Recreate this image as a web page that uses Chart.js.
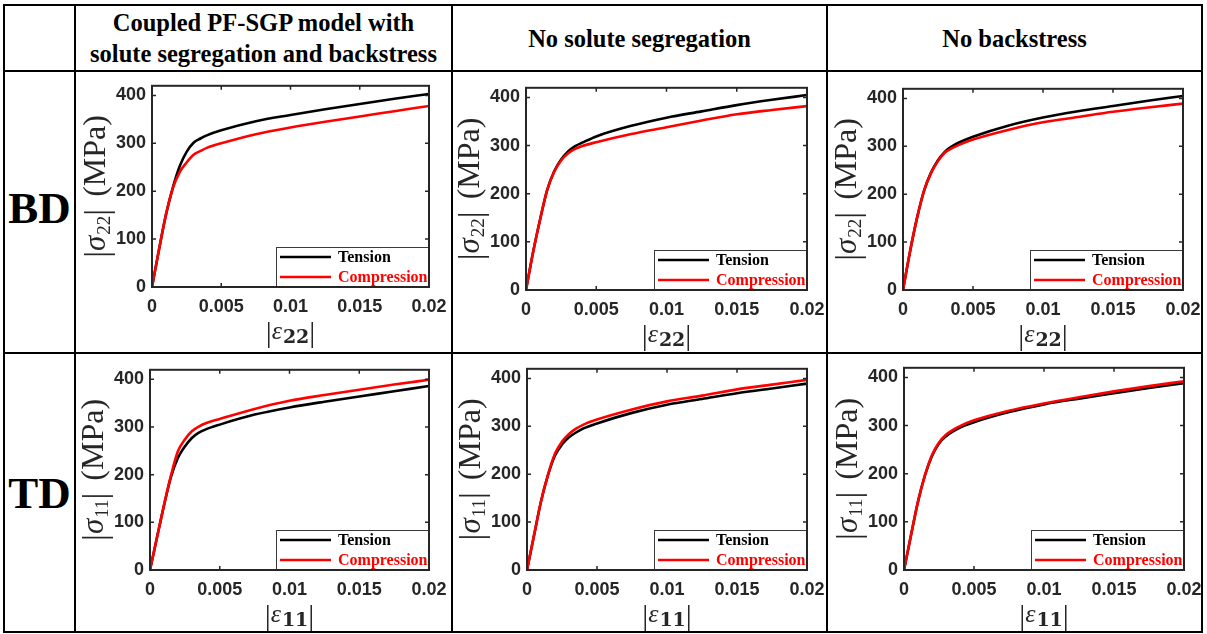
<!DOCTYPE html>
<html><head><meta charset="utf-8">
<script src="https://cdn.jsdelivr.net/npm/chart.js@4.4.1/dist/chart.umd.min.js"></script>
<style>
body{margin:0;width:1207px;height:634px;background:#fff;position:relative;overflow:hidden}
.ln{position:absolute;background:#000}
.cell{position:absolute;display:flex;align-items:center;justify-content:center;text-align:center;font-family:"Liberation Serif","Times New Roman",serif;font-weight:bold;color:#000}
.hdr{font-size:24.5px;line-height:31px}
.row{font-size:45px}
canvas{position:absolute}
</style></head><body>
<div class="ln" style="left:4px;top:4px;width:1199px;height:2px"></div>
<div class="ln" style="left:4px;top:70px;width:1199px;height:2px"></div>
<div class="ln" style="left:4px;top:352px;width:1199px;height:2px"></div>
<div class="ln" style="left:4px;top:631px;width:1199px;height:2px"></div>
<div class="ln" style="left:3px;top:4px;width:2px;height:629px"></div>
<div class="ln" style="left:74px;top:4px;width:2px;height:629px"></div>
<div class="ln" style="left:451px;top:4px;width:2px;height:629px"></div>
<div class="ln" style="left:826px;top:4px;width:2px;height:629px"></div>
<div class="ln" style="left:1201px;top:4px;width:2px;height:629px"></div>

<div class="cell hdr" style="left:76px;top:6px;width:375px;height:64px">Coupled PF-SGP model with<br>solute segregation and backstress</div>
<div class="cell hdr" style="left:453px;top:6px;width:373px;height:64px">No solute segregation</div>
<div class="cell hdr" style="left:828px;top:6px;width:373px;height:64px">No backstress</div>
<div class="cell row" style="left:5px;top:72px;width:69px;height:272px">BD</div>
<div class="cell row" style="left:5px;top:354px;width:69px;height:277px">TD</div>

<canvas id="c1"></canvas><canvas id="c2"></canvas><canvas id="c3"></canvas>
<canvas id="c4"></canvas><canvas id="c5"></canvas><canvas id="c6"></canvas>
<script>
// ---------- data ----------
const strain = [0, 0.0005, 0.001, 0.0015, 0.002, 0.0025, 0.003, 0.0035, 0.004, 0.005, 0.0075, 0.01, 0.0125, 0.015, 0.0175, 0.02];
const xTickLabels = ['0', '0.005', '0.01', '0.015', '0.02'];
const yTickLabels = ['0', '100', '200', '300', '400'];
const seriesNames = ['Tension', 'Compression'];
const columnTitles = ['Coupled PF-SGP model with solute segregation and backstress', 'No solute segregation', 'No backstress'];
const rowTitles = ['BD', 'TD'];

const bdFullTension        = [0, 77, 150, 207, 252, 282, 301, 310, 317, 327, 346, 359, 371, 382, 393, 403];
const bdFullCompression    = [0, 77, 150, 206, 240, 260, 276, 284, 291, 300, 319, 333, 345, 356, 367, 378];
const bdNoSoluteTension    = [0, 78, 146, 207, 246, 271, 288, 299, 306, 319, 341, 358, 371, 384, 395, 405];
const bdNoSoluteCompression= [0, 78, 146, 207, 245, 269, 284, 293, 299, 307, 324, 338, 352, 365, 374, 382];
const bdNoBackTension      = [0, 80, 150, 207, 245, 271, 289, 300, 308, 320, 343, 360, 373, 384, 395, 405];
const bdNoBackCompression  = [0, 80, 150, 207, 244, 269, 287, 296, 303, 314, 334, 350, 361, 372, 381, 389];
const tdFullTension        = [0, 68, 135, 195, 235, 259, 277, 288, 295, 305, 326, 341, 353, 364, 375, 386];
const tdFullCompression    = [0, 68, 136, 198, 249, 274, 291, 301, 308, 317, 338, 355, 367, 378, 389, 399];
const tdNoSoluteTension    = [0, 72, 143, 198, 239, 262, 277, 287, 295, 306, 328, 345, 357, 369, 379, 389];
const tdNoSoluteCompression= [0, 72, 143, 199, 243, 268, 284, 295, 303, 314, 335, 352, 364, 377, 387, 397];
const tdNoBackTension      = [0, 72, 142, 197, 237, 263, 278, 288, 296, 307, 328, 344, 356, 367, 378, 388];
const tdNoBackCompression  = [0, 72, 142, 197, 239, 265, 281, 291, 299, 311, 331, 346, 359, 371, 382, 392];

// ---------- layout ----------
const panels = [
  {id:'c1', sub:'22', t:bdFullTension,    c:bdFullCompression,     L:152, T:81,  R:429,  B:287},
  {id:'c2', sub:'22', t:bdNoSoluteTension,c:bdNoSoluteCompression, L:526, T:83,  R:807,  B:290},
  {id:'c3', sub:'22', t:bdNoBackTension,  c:bdNoBackCompression,   L:903, T:84,  R:1183, B:290},
  {id:'c4', sub:'11', t:tdFullTension,    c:tdFullCompression,     L:150, T:365, R:429,  B:570},
  {id:'c5', sub:'11', t:tdNoSoluteTension,c:tdNoSoluteCompression, L:527, T:364, R:807,  B:570},
  {id:'c6', sub:'11', t:tdNoBackTension,  c:tdNoBackCompression,   L:904, T:363, R:1184, B:570}
];
const PADL = 80, PADT = 12, PADR = 30, PADB = 62;
const AX = '#262626';
const SERIF = '"Liberation Serif", "Times New Roman", serif';

function drawSegs(ctx, segs, cx, base) {
  let total = 0;
  segs.forEach(s => { ctx.font = s.f; s.w = ctx.measureText(s.t).width + (s.gap || 0); total += s.w; });
  let x = cx - total / 2;
  segs.forEach(s => { ctx.font = s.f; ctx.fillText(s.t, x, base + (s.dy || 0)); x += s.w; });
}

const deco = {
  id: 'panelDeco',
  afterDatasetsDraw(chart, args, opts) {
    const ctx = chart.ctx, a = chart.chartArea;
    const xs = chart.scales.x, ys = chart.scales.y;
    ctx.save();
    // inward ticks on all four sides
    ctx.strokeStyle = AX; ctx.lineWidth = 1.5;
    ctx.beginPath();
    xs.ticks.forEach(t => {
      const p = xs.getPixelForValue(t.value);
      ctx.moveTo(p, a.bottom); ctx.lineTo(p, a.bottom - 4);
      ctx.moveTo(p, a.top); ctx.lineTo(p, a.top + 4);
    });
    ys.ticks.forEach(t => {
      const p = ys.getPixelForValue(t.value);
      ctx.moveTo(a.left, p); ctx.lineTo(a.left + 4, p);
      ctx.moveTo(a.right, p); ctx.lineTo(a.right - 4, p);
    });
    ctx.stroke();
    // legend
    const lw = 153, lh = 40;
    const lx = a.right - lw, ly = a.bottom - lh;
    ctx.fillStyle = '#fff'; ctx.fillRect(lx, ly, lw, lh);
    ctx.strokeStyle = '#3a3a3a'; ctx.lineWidth = 1;
    ctx.strokeRect(lx + 0.5, ly + 0.5, lw, lh);
    chart.data.datasets.forEach((ds, i) => {
      const yy = ly + 10 + i * 20;
      ctx.strokeStyle = ds.borderColor; ctx.lineWidth = 2.5;
      ctx.beginPath(); ctx.moveTo(lx + 4, yy); ctx.lineTo(lx + 55, yy); ctx.stroke();
      ctx.fillStyle = ds.borderColor;
      ctx.font = 'bold 16px ' + SERIF;
      ctx.textBaseline = 'middle'; ctx.textAlign = 'left';
      ctx.fillText(ds.label, lx + 62, yy + 1);
    });
    // axes box
    ctx.strokeStyle = AX; ctx.lineWidth = 2;
    ctx.strokeRect(a.left, a.top, a.right - a.left, a.bottom - a.top);
    // axis titles
    ctx.fillStyle = AX; ctx.textBaseline = 'alphabetic'; ctx.textAlign = 'left';
    const sub = opts.sub;
    drawSegs(ctx, [
      {t:'|', f:'30px ' + SERIF, dy:3},
      {t:'\u03b5', f:'italic 26px ' + SERIF, gap:1},
      {t:sub, f:'bold 19px "DejaVu Serif", serif', dy:4},
      {t:'|', f:'30px ' + SERIF, dy:3}
    ], (a.left + a.right) / 2, a.bottom + 52);
    ctx.translate(a.left - 47, (a.top + a.bottom) / 2);
    ctx.rotate(-Math.PI / 2);
    drawSegs(ctx, [
      {t:'|', f:'34px ' + SERIF, dy:3},
      {t:'\u03c3', f:'italic 31px ' + SERIF, gap:1},
      {t:sub, f:'19px ' + SERIF, dy:5},
      {t:'|', f:'34px ' + SERIF, dy:3, gap:12},
      {t:'(MPa)', f:'32px ' + SERIF}
    ], 0, 0);
    ctx.restore();
  }
};

function pick(list, v) {
  const s = list.find(l => Math.abs(Number(l) - v) < 1e-9);
  return s === undefined ? '' : s;
}

panels.forEach(p => {
  const W = p.R - p.L, H = p.B - p.T;
  const cv = document.getElementById(p.id);
  cv.width = W + PADL + PADR; cv.height = H + PADT + PADB;
  cv.style.left = (p.L - PADL) + 'px'; cv.style.top = (p.T - PADT) + 'px';
  const mk = arr => strain.map((e, i) => ({x: e, y: arr[i]}));
  new Chart(cv, {
    type: 'line',
    data: { datasets: [
      {label: seriesNames[0], data: mk(p.t), borderColor: '#000000', borderWidth: 2.6, pointRadius: 0, cubicInterpolationMode: 'monotone', order: 2},
      {label: seriesNames[1], data: mk(p.c), borderColor: '#ff0000', borderWidth: 2.6, pointRadius: 0, cubicInterpolationMode: 'monotone', order: 1}
    ]},
    options: {
      responsive: false, animation: false, devicePixelRatio: 1,
      layout: {padding: {left: 0, top: PADT, right: PADR, bottom: 0}},
      plugins: {legend: {display: false}, tooltip: {enabled: false}, panelDeco: {sub: p.sub}},
      scales: {
        x: {type: 'linear', min: 0, max: 0.02,
            grid: {display: false, drawTicks: false, tickLength: 0}, border: {display: false},
            ticks: {stepSize: 0.005, includeBounds: false, maxRotation: 0, padding: 9, color: AX,
                    font: {family: '"Liberation Sans", Arial, sans-serif', weight: 'bold', size: 18},
                    callback: v => pick(xTickLabels, v)},
            afterFit: s => { s.height = PADB; }},
        y: {type: 'linear', min: 0, max: 420,
            grid: {display: false, drawTicks: false, tickLength: 0}, border: {display: false},
            ticks: {stepSize: 100, includeBounds: false, padding: 6, color: AX,
                    font: {family: '"Liberation Sans", Arial, sans-serif', weight: 'bold', size: 18},
                    callback: v => pick(yTickLabels, v)},
            afterFit: s => { s.width = PADL; }}
      }
    },
    plugins: [deco]
  });
});
</script>
</body></html>
